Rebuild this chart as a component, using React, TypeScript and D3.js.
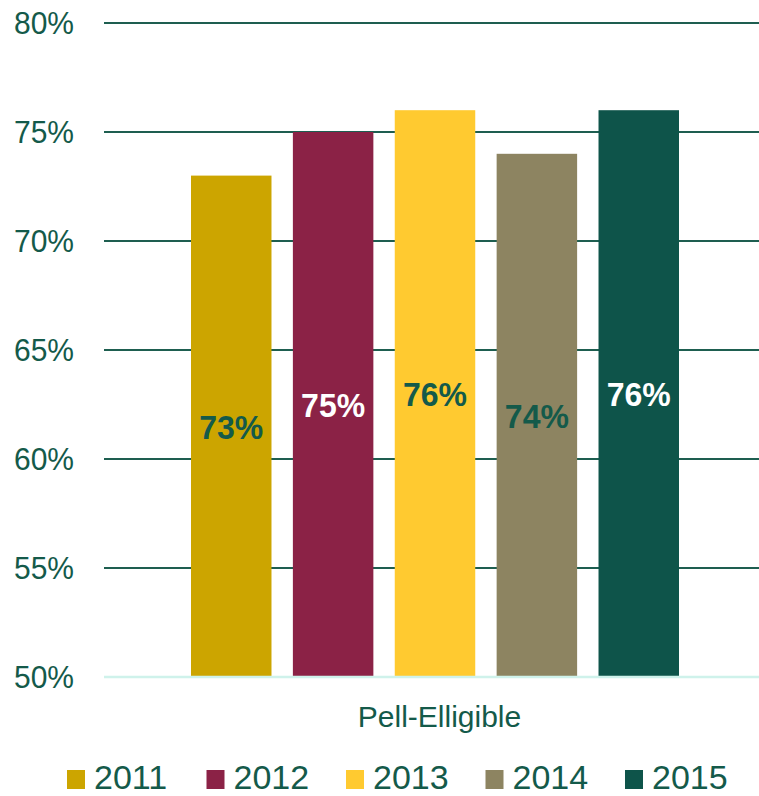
import React from "react";
import * as d3 from "d3";

const categories = ["Pell-Elligible"];
const years = ["2011", "2012", "2013", "2014", "2015"];
const values = [73, 75, 76, 74, 76];
const colors = ["#CCA500", "#8B2246", "#FFCA30", "#8D8461", "#0E544A"];
const labelColors = ["#145A4A", "#FFFFFF", "#145A4A", "#145A4A", "#FFFFFF"];
const yTicks = [50, 55, 60, 65, 70, 75, 80];

const W = 759;
const H = 796;
const TEXT = "#145A4A";
const FONT = "'Liberation Sans', Arial, sans-serif";

export default function App() {
  const left = 104;
  const right = 759;
  const top = 23;
  const bottom = 677;
  const y = d3.scaleLinear().domain([50, 80]).range([bottom, top]);
  const xCat = d3.scaleBand().domain(categories).range([left, right]).paddingInner(0).paddingOuter(0);
  const catCenter = (xCat(categories[0]) as number) + xCat.bandwidth() / 2;
  const groupW = 488;
  const x = d3
    .scaleBand()
    .domain(years)
    .range([catCenter + 3.5 - groupW / 2, catCenter + 3.5 + groupW / 2])
    .paddingInner(0.21)
    .paddingOuter(0);

  const legendX = d3.scaleBand().domain(years).range([67, 67 + 139.5 * 5]);

  return (
    <svg
      width={W}
      height={H}
      style={{ position: "absolute", left: 0, top: 0, background: "#fff" }}
      fontFamily={FONT}
    >
      {yTicks.map((t) => (
        <g key={t}>
          {t !== 50 && (
            <line x1={left} x2={right} y1={y(t)} y2={y(t)} stroke="#1E5E50" strokeWidth={2} />
          )}
          <text
            x={74}
            y={y(t)}
            dy="0.36em"
            textAnchor="end"
            fontSize={30}
            fill={TEXT}
            transform={`translate(0 ${y(t)}) scale(1 1.06) translate(0 ${-y(t)})`}
          >
            {t}%
          </text>
        </g>
      ))}
      {years.map((yr, i) => {
        const bx = x(yr) as number;
        const by = y(values[i]);
        const cy = (by + bottom) / 2;
        return (
          <g key={yr}>
            <rect x={bx} y={by} width={x.bandwidth()} height={bottom - by} fill={colors[i]} />
            <text
              x={bx + x.bandwidth() / 2}
              y={cy}
              dy="0.36em"
              textAnchor="middle"
              fontSize={32}
              fontWeight="bold"
              fill={labelColors[i]}
              transform={`translate(0 ${cy}) scale(1 1.06) translate(0 ${-cy})`}
            >
              {values[i]}%
            </text>
          </g>
        );
      })}
      <line x1={left} x2={right} y1={bottom} y2={bottom} stroke="#CFF2EB" strokeWidth={2.5} />
      <text x={catCenter + 8} y={727} textAnchor="middle" fontSize={30} fill={TEXT}>
        {categories[0]}
      </text>
      {years.map((yr, i) => {
        const lx = legendX(yr) as number;
        return (
          <g key={"lg" + yr}>
            <rect x={lx} y={770} width={18} height={19} fill={colors[i]} />
            <text x={lx + 27} y={789} fontSize={34} fill={TEXT}>
              {yr}
            </text>
          </g>
        );
      })}
    </svg>
  );
}
